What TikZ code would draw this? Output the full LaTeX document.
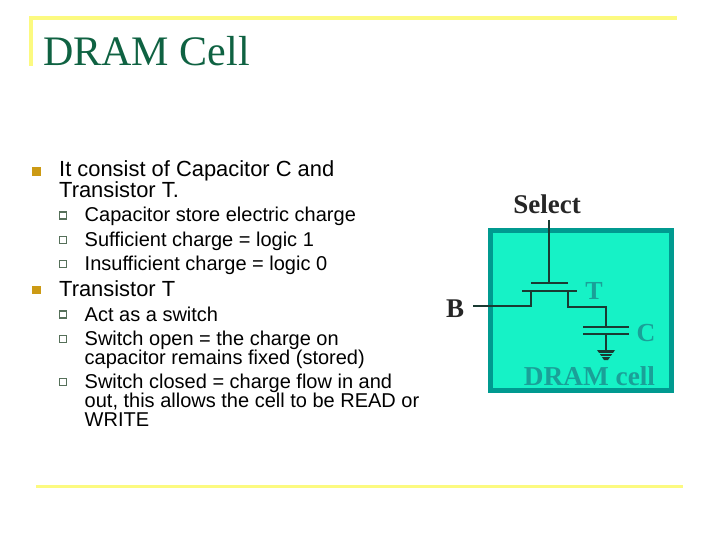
\documentclass[tikz,border=0pt]{standalone}
\usepackage{fontspec}
\setmainfont{Liberation Sans}
\newfontfamily\serifface{Liberation Serif}
\definecolor{rule}{HTML}{FCFA80}
\definecolor{titlegreen}{HTML}{0F6242}
\definecolor{bulletgold}{HTML}{CC9A14}
\definecolor{subbox}{HTML}{56705A}
\definecolor{cellfill}{HTML}{16F2C6}
\definecolor{celledge}{HTML}{009A90}
\definecolor{celltext}{HTML}{1AA098}
\definecolor{wire}{HTML}{1A3A32}
\tikzset{
  x=1pt,y=-1pt,
  rulebar/.style={draw=none,fill=rule},
  mainbul/.style={draw=none,fill=bulletgold,minimum size=8.5pt,inner sep=0pt},
  subbul/.style={draw=subbox,fill=white,line width=1.1pt,minimum size=7pt,inner sep=0pt},
  line1/.style={anchor=base west,inner sep=0pt,font=\fontsize{21.9}{21.9}\selectfont},
  line2/.style={anchor=base west,inner sep=0pt,font=\fontsize{20}{20}\selectfont},
  wiring/.style={draw=wire,line width=1.5pt},
  dark/.style={inner sep=0pt,text=black!85,font=\serifface\bfseries\fontsize{27}{27}\selectfont},
  teal/.style={inner sep=0pt,text=celltext,font=\serifface\bfseries\fontsize{26}{26}\selectfont},
}
\begin{document}
\begin{tikzpicture}
\useasboundingbox (0,0) rectangle (720,540);
\fill[white] (0,0) rectangle (720,540);
% frame rules
\fill[rulebar] (29,16.5) rectangle (677,20);
\fill[rulebar] (29,16.5) rectangle (32.5,66);
\fill[rulebar] (36,484.5) rectangle (683,488);
% title
\node[anchor=base west,inner sep=0pt,text=titlegreen,font=\serifface\fontsize{42}{42}\selectfont] (title) at (43,66) {DRAM Cell};
% text
\node[mainbul] (b1) at (36.5,171.5) {};
\node[line1] (t1a) at (59,176.5) {It consist of Capacitor C and};
\node[line1] (t1b) at (59,197) {Transistor T.};
\node[subbul] (s1) at (63,215.5) {};
\node[line2] (t2) at (84.5,222) {Capacitor store electric charge};
\node[subbul] (s2) at (63,240) {};
\node[line2] (t3) at (84.5,246) {Sufficient charge = logic 1};
\node[subbul] (s3) at (63,264) {};
\node[line2] (t4) at (84.5,270) {Insufficient charge = logic 0};
\node[mainbul] (b2) at (36.5,290) {};
\node[line1] (t5) at (59,296) {Transistor T};
\node[subbul] (s4) at (63,314.5) {};
\node[line2] (t6) at (84.5,321) {Act as a switch};
\node[subbul] (s5) at (63,339) {};
\node[line2] (t7a) at (84.5,345) {Switch open = the charge on};
\node[line2] (t7b) at (84.5,364) {capacitor remains fixed (stored)};
\node[subbul] (s6) at (63,382) {};
\node[line2] (t8a) at (84.5,388) {Switch closed = charge flow in and};
\node[line2] (t8b) at (84.5,407) {out, this allows the cell to be READ or};
\node[line2] (t8c) at (84.5,426) {WRITE};
% cell
\draw[draw=celledge,fill=cellfill,line width=5pt] (490.5,230.5) rectangle (671,390);
\node[dark] (sel) at (547,204) {Select};
\node[dark] (bl) at (455,309) {B};
\node[teal] (T) at (594,291) {T};
\node[teal] (C) at (646,333) {C};
\node[teal,font=\serifface\bfseries\fontsize{27.3}{27.3}\selectfont] (cap) at (589.5,376) {DRAM cell};
% named points
\coordinate (selB) at (549,220);
\coordinate (gate) at (549,283);
\coordinate (gL) at (531,283);
\coordinate (gR) at (568,283);
\coordinate (chL) at (522,291);
\coordinate (chR) at (577,291);
\coordinate (sL) at (531,291);
\coordinate (sR) at (568,291);
\coordinate (bEnd) at (473,306);
\coordinate (dEnd) at (606,327);
\coordinate (p1L) at (583,327);
\coordinate (p1R) at (629,327);
\coordinate (p2L) at (583,334);
\coordinate (p2R) at (629,334);
\coordinate (p2M) at (606,334);
\coordinate (gnd) at (606,350);
\draw[wiring] (selB) -- (gate);
\draw[wiring] (gL) -- (gR);
\draw[wiring] (chL) -- (chR);
\draw[wiring] (sL) |- (bEnd);
\draw[wiring] (sR) |- (dEnd |- 0,307) -- (dEnd);
\draw[wiring] (p1L) -- (p1R);
\draw[wiring] (p2L) -- (p2R);
\draw[wiring] (p2M) -- (gnd);
\fill[wire] (597,350) -- (615,350) -- (608,360) -- (604,360) -- cycle;
\draw[cellfill,line width=0.7pt] (597,353) -- (615,353);
\draw[cellfill,line width=0.7pt] (597,356.5) -- (615,356.5);
\end{tikzpicture}
\end{document}
